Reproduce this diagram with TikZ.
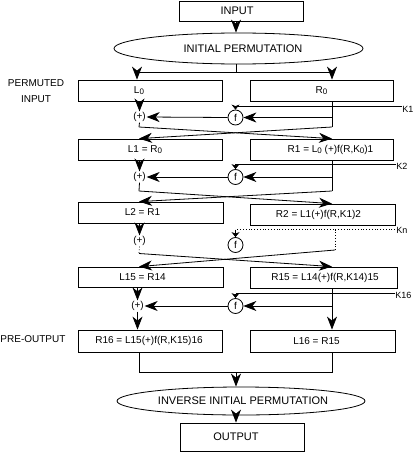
\documentclass[tikz,border=0pt]{standalone}
\usepackage{fontspec}
\setmainfont{Liberation Sans}
\usetikzlibrary{arrows.meta,shapes.geometric}
\newcommand\tsh[2]{\hspace*{#1}#2\hspace*{-#1}}
\newcommand\lsub[1]{\raisebox{-1.5pt}{\footnotesize #1}}
\begin{document}
\begin{tikzpicture}[x=1pt,y=-1pt,line width=0.8pt,
  box/.style={draw,rectangle,minimum height=21pt,inner sep=1pt,font=\fontsize{10}{12}\selectfont},
  hbox/.style={draw,rectangle,inner sep=1pt,font=\fontsize{11}{13}\selectfont},
  oval/.style={draw,ellipse,inner sep=0pt,font=\fontsize{11}{13}\selectfont},
  fcirc/.style={draw,circle,minimum size=15pt,inner sep=0pt,font=\fontsize{10}{12}\selectfont},
  xor/.style={inner sep=0.5pt,font=\fontsize{10}{12}\selectfont},
  lbl/.style={inner sep=0pt,font=\fontsize{10}{12}\selectfont},
  klbl/.style={inner sep=0pt,anchor=west,font=\fontsize{9}{11}\selectfont},
  arr/.style={-{Stealth[length=13pt,width=10pt,inset=4pt]}},
  sarr/.style={-{Stealth[length=5pt,width=8pt,inset=1.5pt]}},
  dot/.style={dotted,line width=0.8pt}]
\useasboundingbox (0,0) rectangle (412,452);

% columns
\coordinate (cx) at (236,0);
\coordinate (lx) at (139,0);
\coordinate (rx) at (332,0);
\coordinate (rx3) at (335,0);

% top
\node[hbox,minimum width=124pt,minimum height=20pt] (IN) at (241,11) {\tsh{-4pt}{INPUT}};
\node[oval,minimum width=249pt,minimum height=31pt] (E1) at (238.5,48.5) {\tsh{4.5pt}{INITIAL PERMUTATION}};

% boxes
\node[box,minimum width=144pt] (L0) at (150,90.5) {\tsh{-11pt}{L\lsub{0}}};
\node[box,minimum width=143pt] (R0) at (321.5,90.5) {R\lsub{0}};
\node[box,minimum width=144pt] (L1) at (150,149.5) {\tsh{-5pt}{L1 = R\lsub{0}}};
\node[box,minimum width=143pt] (R1) at (321.5,149.5) {\tsh{9pt}{R1 = L\lsub{0} (+)f(R,K\lsub{0})1}};
\node[box,minimum width=145pt] (L2) at (150.5,212.5) {\tsh{-8pt}{L2 = R1}};
\node[box,minimum width=145pt] (R2) at (322.5,214.5) {\tsh{-4pt}{R2 = L1(+)f(R,K1)2}};
\node[box,minimum width=145pt,minimum height=20pt] (L15) at (150.5,277) {\tsh{-8pt}{L15 = R14}};
\node[box,minimum width=147pt] (R15) at (323.5,277.5) {\tsh{1.5pt}{R15 = L14(+)f(R,K14)15}};
\node[box,minimum width=144pt,minimum height=22pt] (R16) at (150,341) {\tsh{-1pt}{R16 = L15(+)f(R,K15)16}};
\node[box,minimum width=145pt,minimum height=22pt] (L16) at (322.5,341) {\tsh{-6pt}{L16 = R15}};

% bottom
\node[oval,minimum width=248pt,minimum height=28pt] (E2) at (241,401) {\tsh{2pt}{INVERSE INITIAL PERMUTATION}};
\node[hbox,minimum width=124pt,minimum height=28pt] (OUT) at (242,437) {\tsh{-6pt}{OUTPUT}};

% side labels
\node[lbl,align=center] (PI) at (36,91.5) {PERMUTED\\[4pt]INPUT};
\node[lbl] (PO) at (33,339.5) {PRE-OUTPUT};

% round function nodes
\node[xor] (P1) at (139.5,117) {(+)};
\node[fcirc] (F1) at (235.5,117.5) {f};
\node[xor] (P2) at (139.5,177) {(+)};
\node[fcirc] (F2) at (235.5,177) {f};
\node[xor] (P3) at (139.5,241) {(+)};
\node[fcirc] (F3) at (235.5,245) {f};
\node[xor] (P4) at (137.5,306) {(+)};
\node[fcirc] (F4) at (235.5,306) {f};

% key labels
\coordinate (k1) at (402,106);
\coordinate (k2) at (396,164);
\coordinate (kn) at (395,229.5);
\coordinate (k16) at (395,293.5);
\node[klbl] (K1) at (402,109) {K1};
\node[klbl] (K2) at (396,166) {K2};
\node[klbl] (KN) at (396,230.5) {Kn};
\node[klbl] (K16) at (395,295) {K16};

% coordinates for crossings and joins
\coordinate (sl) at (137,72);
\coordinate (sr) at (332,72);
\coordinate (lb1) at (139,127);
\coordinate (rb1) at (332,127);
\coordinate (lb2) at (139,191);
\coordinate (rb2) at (332,191);
\coordinate (lb3) at (139,253.5);
\coordinate (rb3) at (335,250);
\coordinate (jl) at (139,372);
\coordinate (jr) at (332,372);
\coordinate (jc) at (236,372);

% top connections
\draw[arr] (IN.south -| cx) -- (E1.north -| cx);
\draw (E1.south -| cx) -- (cx |- sl);
\draw (sl) -- (sr);
\draw[arr] (sl) -- (L0.north -| sl);
\draw[arr] (sr) -- (R0.north -| sr);

% stage 1
\draw[arr] (L0.south -| P1) -- (P1.north);
\draw (R0.south -| rx) -- (rb1);
\draw[arr] (F1 -| rx) -- (F1.east);
\draw[arr] (F1.west) -- (P1.east);
\draw (k1) -- (k1 -| F1);
\draw[sarr] (k1 -| F1) -- (F1.north);
\draw (P1.south) -- (lb1);
\draw[arr] (lb1) -- (R1.north -| rx);
\draw[arr] (rb1) -- (L1.north -| lx);

% stage 2
\draw[arr] (L1.south -| P2) -- (P2.north);
\draw (R1.south -| rx) -- (rb2);
\draw[arr] (F2 -| rx) -- (F2.east);
\draw[arr] (F2.west) -- (P2.east);
\draw (k2) -- (k2 -| F2);
\draw[sarr] (k2 -| F2) -- (F2.north);
\draw (P2.south) -- (lb2);
\draw[arr] (lb2) -- (R2.north -| rx);
\draw[arr] (rb2) -- (L2.north -| lx);

% stage 3 (dotted)
\draw[arr] (L2.south -| P3) -- (P3.north);
\draw[dot] (kn) -- (kn -| F3);
\draw[sarr] (kn -| F3) -- (F3.north);
\draw[dot] (kn -| rx3) -- (rb3);
\draw[dot] (P3.south) -- (lb3);
\draw[arr] (lb3) -- (R15.north -| rx);
\draw[arr] (rb3) -- (L15.north -| lx);

% stage 4
\draw[arr] (L15.south -| P4) -- (P4.north);
\draw (k16) -- (k16 -| F4);
\draw[sarr] (k16 -| F4) -- (F4.north);
\draw[arr] (R15.south -| rx) -- (L16.north -| rx);
\draw[arr] (F4 -| rx) -- (F4.east);
\draw[arr] (F4.west) -- (P4.east);
\draw[arr] (P4.south) -- (R16.north -| P4);

% output
\draw (R16.south -| jl) -- (jl) -- (jr) -- (L16.south -| jr);
\draw[arr] (jc) -- (E2.north -| jc);
\draw[arr] (E2.south -| cx) -- (OUT.north -| cx);
\end{tikzpicture}
\end{document}
